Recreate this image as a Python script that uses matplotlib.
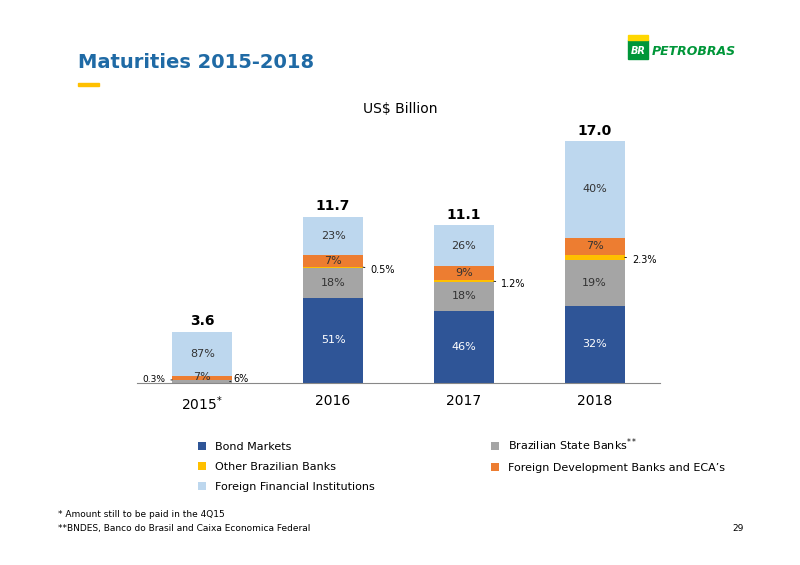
import numpy as np
import matplotlib.pyplot as plt
from matplotlib.patches import Rectangle

years = ['2015', '2016', '2017', '2018']
totals = [3.6, 11.7, 11.1, 17.0]
series = ['Bond Markets', 'Brazilian State Banks', 'Other Brazilian Banks',
          'Foreign Development Banks and ECA\u2019s', 'Foreign Financial Institutions']
shares = {
    'Bond Markets': [0, 51, 46, 32],
    'Brazilian State Banks': [6, 18, 18, 19],
    'Other Brazilian Banks': [0.3, 0.5, 1.2, 2.3],
    'Foreign Development Banks and ECA\u2019s': [7, 7, 9, 7],
    'Foreign Financial Institutions': [87, 23, 26, 40],
}
colors = ['#2F5597', '#A5A5A5', '#FFC000', '#ED7D31', '#BDD7EE']
label_col = ['white', '#333333', '#333333', '#333333', '#333333']

fig = plt.figure(figsize=(8, 5.65), dpi=100)
fig.text(0.097, 0.88, 'Maturities 2015-2018', color='#1F6AA5', fontsize=14, fontweight='bold')
fig.add_artist(Rectangle((0.097, 0.848), 0.027, 0.005, color='#FFC000', transform=fig.transFigure))
fig.text(0.5, 0.80, 'US$ Billion', ha='center', fontsize=10)
fig.add_artist(Rectangle((0.785, 0.895), 0.025, 0.035, color='#009639', transform=fig.transFigure))
fig.text(0.7975, 0.905, 'BR', color='white', fontsize=7, fontweight='bold', ha='center', style='italic')
fig.add_artist(Rectangle((0.785, 0.93), 0.025, 0.008, color='#FFD700', transform=fig.transFigure))
fig.text(0.815, 0.903, 'PETROBRAS', color='#009639', fontsize=9, fontweight='bold', style='italic')

ax = fig.add_axes([0.171, 0.322, 0.654, 0.466])
x = np.arange(len(years))
bottom = np.zeros(len(years))
for s, c, lc in zip(series, colors, label_col):
    pct = np.array(shares[s])
    vals = np.array([t * p / sum(shares[k][i] for k in series) for i, (t, p) in enumerate(zip(totals, pct))])
    ax.bar(x, vals, 0.46, bottom=bottom, color=c, label=s)
    for i in range(len(years)):
        p = pct[i]
        if p == 0:
            continue
        yc = bottom[i] + vals[i] / 2
        txt = f'{p:g}%'
        if i == 0 and s == 'Other Brazilian Banks':
            ax.annotate(txt, (x[i] - 0.23, yc), xytext=(x[i] - 0.37, yc), fontsize=6.5,
                        va='center', ha='center', arrowprops=dict(arrowstyle='-', lw=0.6))
        elif i == 0 and s == 'Brazilian State Banks':
            ax.annotate(txt, (x[i] + 0.21, yc), xytext=(x[i] + 0.3, yc + 0.2), fontsize=7,
                        va='center', ha='center', arrowprops=dict(arrowstyle='-', lw=0.6))
        elif i == 0 and p < 10:
            ax.text(x[i], yc + 0.1, txt, ha='center', va='center', fontsize=8, color='#333333')
        elif p < 3:
            ax.annotate(txt, (x[i] + 0.23, yc), xytext=(x[i] + 0.38, yc - 0.2), fontsize=7,
                        va='center', ha='center', arrowprops=dict(arrowstyle='-', lw=0.6))
        else:
            ax.text(x[i], yc, txt, ha='center', va='center', fontsize=8, color=lc)
    bottom += vals

for i, t in enumerate(totals):
    ax.text(x[i], t + 0.25, f'{t:.1f}', ha='center', va='bottom', fontsize=10, fontweight='bold')

ax.set_xlim(-0.5, 3.5)
ax.set_ylim(0, 18.5)
ax.set_xticks(x)
ax.set_xticklabels(['2015$^{*}$', '2016', '2017', '2018'], fontsize=10)
ax.set_yticks([])
for sp in ['top', 'right', 'left']:
    ax.spines[sp].set_visible(False)
ax.spines['bottom'].set_color('#888888')
ax.tick_params(axis='x', length=0, pad=8)

handles, labels = ax.get_legend_handles_labels()
labels[1] = 'Brazilian State Banks$^{**}$'
order = [0, 2, 4, 1, 3]
fig.legend([handles[k] for k in order], [labels[k] for k in order], ncol=2, loc='upper left',
           bbox_to_anchor=(0.235, 0.245), frameon=False, fontsize=8, handlelength=0.7,
           handleheight=0.7, columnspacing=10.5, labelspacing=0.9)

fig.text(0.072, 0.085, '* Amount still to be paid in the 4Q15', fontsize=6.5)
fig.text(0.072, 0.060, '**BNDES, Banco do Brasil and Caixa Economica Federal', fontsize=6.5)
fig.text(0.915, 0.060, '29', fontsize=6.5)

fig.savefig('out.png', dpi=100)
